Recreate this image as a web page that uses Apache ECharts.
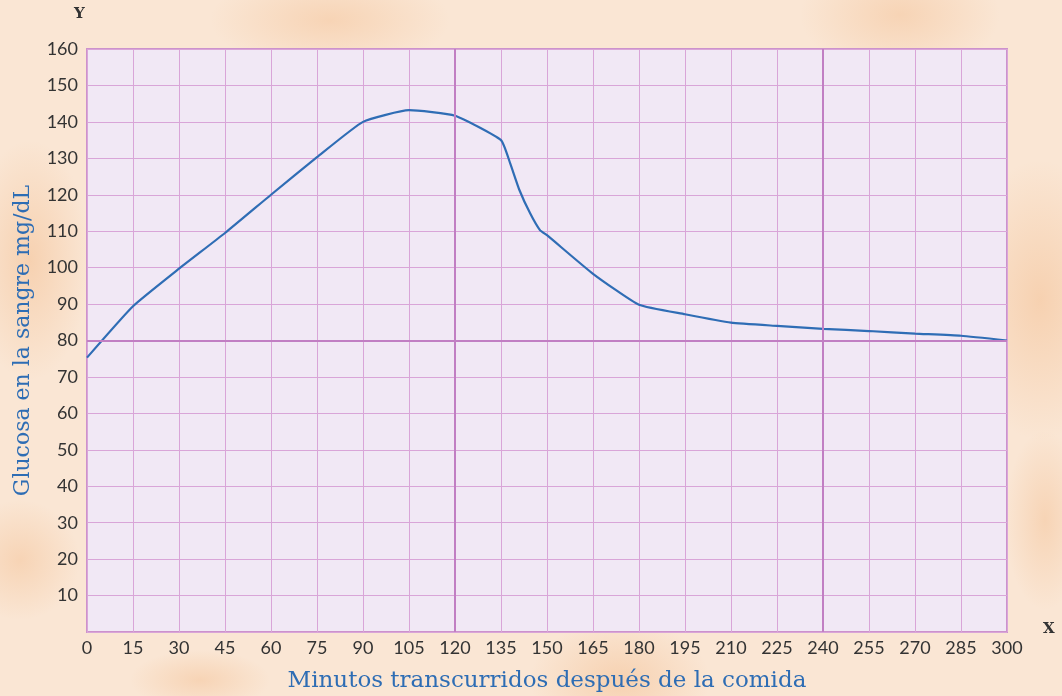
<!DOCTYPE html>
<html><head><meta charset="utf-8">
<script src="https://cdn.jsdelivr.net/npm/echarts@6/dist/echarts.min.js"></script>
<style>
html,body{margin:0;padding:0;}
body{width:1062px;height:696px;overflow:hidden;
background:
 radial-gradient(ellipse 60px 120px at 30px 260px, rgba(240,170,110,0.35), transparent),
 radial-gradient(ellipse 90px 60px at 620px 680px, rgba(240,170,110,0.35), transparent),
 radial-gradient(ellipse 80px 140px at 1040px 300px, rgba(240,170,110,0.35), transparent),
 radial-gradient(ellipse 120px 50px at 330px 20px, rgba(240,170,110,0.3), transparent),
 radial-gradient(ellipse 100px 60px at 900px 15px, rgba(240,170,110,0.3), transparent),
 radial-gradient(ellipse 60px 60px at 20px 560px, rgba(240,170,110,0.3), transparent),
 radial-gradient(ellipse 40px 90px at 1045px 520px, rgba(240,170,110,0.3), transparent),
 radial-gradient(ellipse 70px 30px at 200px 680px, rgba(240,170,110,0.3), transparent),
 #fae6d4;}
#c{width:1062px;height:696px;}
</style></head>
<body><div id="c"></div>
<script>
var minutes = [0, 15, 30, 45, 60, 75, 90, 105, 120, 135, 138, 141, 144.5, 147.7, 150, 165, 180, 195, 210, 225, 240, 255, 270, 285, 300];
var glucose = [75.3, 89.4, 99.7, 109.5, 120, 130.3, 140, 143.2, 141.7, 135, 128.6, 121.3, 114.9, 110.3, 108.9, 98.3, 89.8, 87.2, 84.9, 84, 83.2, 82.6, 81.9, 81.3, 80];
var xTicks = {min: 0, max: 300, step: 15};
var yTicks = {min: 0, max: 160, step: 10};
var majorX = [120, 240];
var majorY = [80];
var xName = 'Minutos transcurridos después de la comida';
var yName = 'Glucosa en la sangre mg/dL';

var chart = echarts.init(document.getElementById('c'));
var gridColor = '#d9a5d8';
var majorColor = '#c17fc3';
var data = minutes.map(function(m, i){ return [m, glucose[i]]; });
var markData = majorX.map(function(v){ return {xAxis: v}; }).concat(majorY.map(function(v){ return {yAxis: v}; }));
chart.setOption({
  animation: false,
  grid: {left: 87, right: 55, top: 49, bottom: 64, show: true, containLabel: false, outerBoundsMode: 'none',
         backgroundColor: '#f1e8f5', borderColor: '#cc92cc', borderWidth: 2},
  xAxis: {type: 'value', min: xTicks.min, max: xTicks.max, interval: xTicks.step,
    axisLine: {show: false}, axisTick: {show: false},
    splitLine: {show: true, lineStyle: {color: gridColor, width: 1}},
    axisLabel: {color: '#333', fontFamily: 'Lato', fontSize: 18, margin: 7},
    name: xName, nameLocation: 'middle', nameGap: 38,
    nameTextStyle: {color: '#2e6db4', fontFamily: 'DejaVu Serif', fontSize: 23}
  },
  yAxis: {type: 'value', min: yTicks.min, max: yTicks.max, interval: yTicks.step,
    axisLine: {show: false}, axisTick: {show: false},
    splitLine: {show: true, lineStyle: {color: gridColor, width: 1}},
    axisLabel: {color: '#333', fontFamily: 'Lato', fontSize: 18, margin: 9,
      formatter: function(v){ return v === 0 ? '' : v; }},
    name: yName, nameLocation: 'middle', nameGap: 53,
    nameTextStyle: {color: '#2e6db4', fontFamily: 'DejaVu Serif', fontSize: 22}
  },
  graphic: [
    {type: 'text', left: 74, top: 7, style: {text: 'Y', font: 'bold 15px "DejaVu Serif"', fill: '#333'}},
    {type: 'text', left: 1043, top: 622, style: {text: 'X', font: 'bold 15px "DejaVu Serif"', fill: '#333'}}
  ],
  series: [{
    type: 'line', data: data, smooth: 0.15, showSymbol: false,
    lineStyle: {color: '#2f6db5', width: 2.2},
    markLine: {silent: true, symbol: 'none', label: {show: false},
      lineStyle: {color: majorColor, width: 2, type: 'solid'}, data: markData}
  }]
});
</script></body></html>
